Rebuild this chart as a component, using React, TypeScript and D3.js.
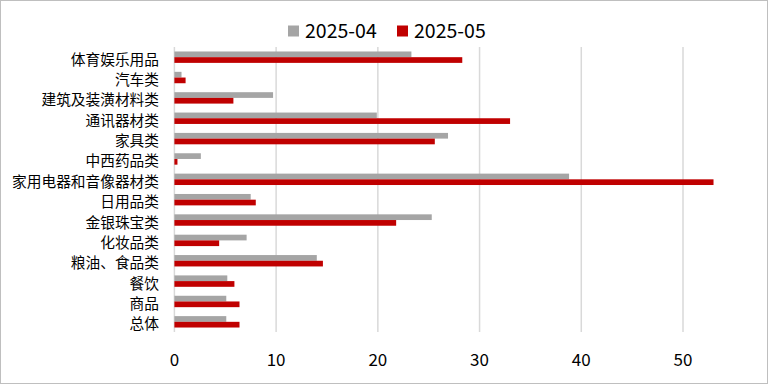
import { useEffect } from "react";
import * as d3 from "d3";

const categories = [
  "体育娱乐用品",
  "汽车类",
  "建筑及装潢材料类",
  "通讯器材类",
  "家具类",
  "中西药品类",
  "家用电器和音像器材类",
  "日用品类",
  "金银珠宝类",
  "化妆品类",
  "粮油、食品类",
  "餐饮",
  "商品",
  "总体",
];
const seriesNames = ["2025-04", "2025-05"];
const apr = [23.3, 0.7, 9.7, 19.9, 26.9, 2.6, 38.8, 7.5, 25.3, 7.1, 14.0, 5.2, 5.1, 5.1];
const may = [28.3, 1.1, 5.8, 33.0, 25.6, 0.3, 53.0, 8.0, 21.8, 4.4, 14.6, 5.9, 6.4, 6.4];
const ticks = [0, 10, 20, 30, 40, 50];
const colors = ["#a5a5a5", "#c00000"];

const W = 768;
const H = 384;
const FONT = "'Noto Sans CJK SC', 'Noto Sans', sans-serif";

export default function App() {
  useEffect(() => {
    document.body.style.margin = "0";
  }, []);

  const x = d3.scaleLinear().domain([0, 50]).range([174.4, 683]);
  const y = d3
    .scaleBand()
    .domain(categories)
    .range([47, 332])
    .paddingInner(0.44)
    .paddingOuter(0.22);
  const bh = y.bandwidth() / 2;
  const values = [apr, may];

  return (
    <svg width={W} height={H} style={{ display: "block", fontFamily: FONT }}>
      <rect x={0.5} y={0.5} width={W - 1} height={H - 1} fill="#fff" stroke="#bfbfbf" />

      {/* grid */}
      {ticks.map((t) => (
        <line key={t} x1={x(t)} x2={x(t)} y1={47} y2={332} stroke="#d9d9d9" strokeWidth={1.5} />
      ))}

      {/* bars */}
      {values.map((vals, si) =>
        categories.map((c, i) => (
          <rect
            key={`${si}-${c}`}
            x={x(0)}
            y={(y(c) ?? 0) + si * bh}
            width={x(vals[i]) - x(0)}
            height={bh}
            fill={colors[si]}
          />
        ))
      )}

      {/* category labels */}
      {categories.map((c) => (
        <text
          key={c}
          x={159}
          y={(y(c) ?? 0) + y.bandwidth() / 2 + 1}
          textAnchor="end"
          dominantBaseline="central"
          fontSize={14.7}
          fill="#000"
        >
          {c}
        </text>
      ))}

      {/* tick labels */}
      {ticks.map((t) => (
        <text key={t} x={x(t)} y={366} textAnchor="middle" fontSize={17} fill="#000">
          {t}
        </text>
      ))}

      {/* legend */}
      <g>
        <rect x={288} y={25.5} width={11} height={11} fill={colors[0]} />
        <text x={305} y={37.7} fontSize={19.5} fill="#000">
          {seriesNames[0]}
        </text>
        <rect x={397} y={25.5} width={11} height={11} fill={colors[1]} />
        <text x={414} y={37.7} fontSize={19.5} fill="#000">
          {seriesNames[1]}
        </text>
      </g>
    </svg>
  );
}
